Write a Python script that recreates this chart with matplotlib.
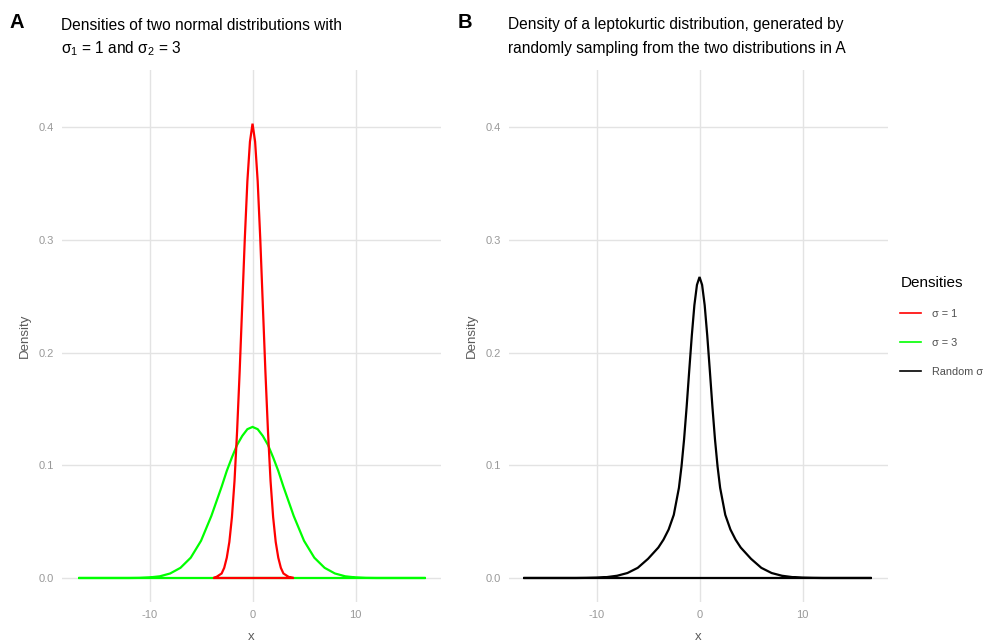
import numpy as np
import matplotlib
matplotlib.use('Agg')
import matplotlib.pyplot as plt
from matplotlib.lines import Line2D

plt.rcParams['font.family'] = ['Liberation Sans', 'DejaVu Sans']
plt.rcParams['mathtext.fontset'] = 'custom'
plt.rcParams['mathtext.rm'] = 'Liberation Sans'
plt.rcParams['mathtext.it'] = 'Liberation Sans'
plt.rcParams['axes.unicode_minus'] = False

# density of N(0, 1) (red)
x_sd1 = [-3.8, -3.5, -3.0, -2.75, -2.5, -2.25, -2.0, -1.75, -1.5, -1.25, -1.0, -0.75, -0.5, -0.25,
         0.0, 0.25, 0.5, 0.75, 1.0, 1.25, 1.5, 1.75, 2.0, 2.25, 2.5, 2.75, 3.0, 3.5, 4.0]
dens_sd1 = [0.000, 0.001, 0.004, 0.009, 0.018, 0.032, 0.054, 0.086, 0.130, 0.183, 0.242, 0.301, 0.352, 0.387,
            0.403, 0.387, 0.352, 0.301, 0.242, 0.183, 0.130, 0.086, 0.054, 0.032, 0.018, 0.009, 0.004, 0.001, 0.000]

# density of N(0, 3), panel A (green)
x_sd3 = [-16.9, -12, -11, -10, -9, -8, -7, -6, -5, -4, -3.5, -3, -2.5, -2, -1.5, -1, -0.5,
         0, 0.5, 1, 1.5, 2, 2.5, 3, 3.5, 4, 5, 6, 7, 8, 9, 10, 11, 12, 16.8]
dens_sd3 = [0.0, 0.0, 0.0001, 0.0005, 0.0015, 0.004, 0.009, 0.018, 0.033, 0.055, 0.068, 0.081, 0.095, 0.107, 0.118, 0.126, 0.132,
            0.134, 0.132, 0.126, 0.118, 0.107, 0.095, 0.081, 0.068, 0.055, 0.033, 0.018, 0.009, 0.004, 0.0015, 0.0005, 0.0001, 0.0, 0.0]

# leptokurtic density from random sampling, panel B (black)
x_mix = [-17.1, -12, -11, -10, -9, -8, -7, -6, -5, -4, -3.5, -3, -2.5, -2, -1.75, -1.5, -1.25, -1, -0.75, -0.5, -0.25,
         0, 0.25, 0.5, 0.75, 1, 1.25, 1.5, 1.75, 2, 2.5, 3, 3.5, 4, 5, 6, 7, 8, 9, 10, 11, 12, 16.7]
dens_mix = [0.0, 0.0, 0.0001, 0.0003, 0.0008, 0.002, 0.0044, 0.009, 0.017, 0.027, 0.034, 0.043, 0.056, 0.080, 0.099, 0.123, 0.152, 0.184, 0.215, 0.242, 0.260,
            0.267, 0.260, 0.242, 0.215, 0.184, 0.152, 0.123, 0.099, 0.080, 0.056, 0.043, 0.034, 0.027, 0.017, 0.009, 0.0044, 0.002, 0.0008, 0.0003, 0.0001, 0.0, 0.0]

legend_labels = ['σ = 1', 'σ = 3', 'Random σ']
legend_colors = ['#FF0000', '#00FF00', '#000000']

xticks = [-10, 0, 10]
yticks = [0.0, 0.1, 0.2, 0.3, 0.4]

W, H = 987, 644
fig = plt.figure(figsize=(W / 100, H / 100), dpi=100)

def px(x0, y0, x1, y1):
    return [x0 / W, 1 - y1 / H, (x1 - x0) / W, (y1 - y0) / H]

axA = fig.add_axes(px(62, 70, 441, 602))
axB = fig.add_axes(px(509, 70, 888, 602))

grid_col = '#e3e3e3'
tick_col = '#999999'

def style(ax):
    ax.set_xlim(-18.5, 18.3)
    ax.set_ylim(-0.0213, 0.4506)
    ax.set_xticks(xticks)
    ax.set_yticks(yticks)
    ax.set_yticklabels([f'{v:.1f}' for v in yticks])
    ax.grid(True, color=grid_col, linewidth=1.0)
    ax.set_axisbelow(True)
    for s in ax.spines.values():
        s.set_visible(False)
    ax.tick_params(length=0, labelsize=8, labelcolor=tick_col, pad=6)
    ax.set_xlabel('x', fontsize=9.5, color='#5a5a5a', labelpad=8)
    ax.set_ylabel('Density', fontsize=9.5, color='#5a5a5a', labelpad=5)

style(axA)
style(axB)

axA.fill(x_sd3, dens_sd3, facecolor='none', edgecolor=legend_colors[1], linewidth=1.6)
axA.fill(x_sd1, dens_sd1, facecolor='none', edgecolor=legend_colors[0], linewidth=1.6)
axB.fill(x_mix, dens_mix, facecolor='none', edgecolor=legend_colors[2], linewidth=1.6)

# panel tags and titles
fig.text(10 / W, 1 - 22 / H, 'A', fontsize=14.5, fontweight='bold', va='center')
fig.text(458 / W, 1 - 22 / H, 'B', fontsize=14.5, fontweight='bold', va='center')
fig.text(61 / W, 1 - 25 / H, 'Densities of two normal distributions with', fontsize=11.2, va='center')
fig.text(61 / W, 1 - 49 / H, r'$\sigma_1$ = 1 and $\sigma_2$ = 3', fontsize=11.2, va='center')
fig.text(508 / W, 1 - 25 / H, 'Density of a leptokurtic distribution, generated by', fontsize=11.2, va='center')
fig.text(508 / W, 1 - 49 / H, 'randomly sampling from the two distributions in A', fontsize=11.2, va='center')

handles = [Line2D([], [], color=c, linewidth=1.2) for c in legend_colors]
leg = fig.legend(handles, legend_labels, title='Densities', loc='upper left',
                 bbox_to_anchor=(896 / W, 1 - 272 / H), frameon=False, fontsize=7.8,
                 title_fontsize=11, labelspacing=1.75, handlelength=1.9, handletextpad=1.0,
                 borderaxespad=0)
leg._legend_box.align = 'left'
for t in leg.get_texts():
    t.set_color('#4d4d4d')

fig.savefig('out.png', dpi=100)
